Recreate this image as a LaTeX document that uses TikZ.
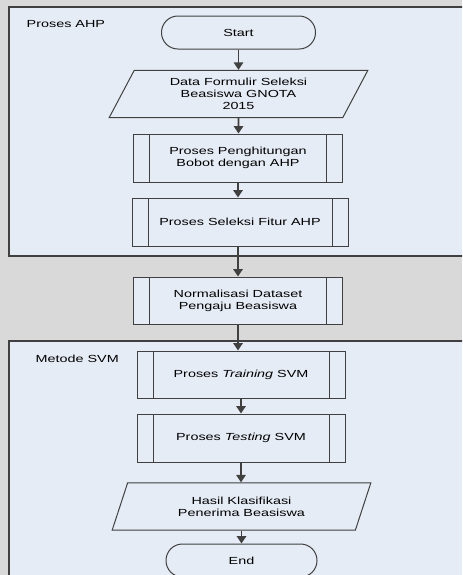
\documentclass[tikz,border=0pt]{standalone}
\usepackage{fontspec}
\setmainfont{Liberation Sans}[FakeStretch=1.4]
\usepackage{xcolor}
\usepackage{tikz}
\usetikzlibrary{shapes.geometric, positioning, arrows.meta}
\definecolor{bggray}{HTML}{D9D9D9}
\definecolor{lanefill}{HTML}{E6ECF6}
\definecolor{linegray}{HTML}{404040}

\begin{document}
\begin{tikzpicture}[x=0.75pt, y=-0.75pt,
    font=\fontsize{7.7}{9.2}\selectfont,
    lane/.style={draw=linegray, line width=0.9pt, fill=lanefill},
    term/.style={draw=linegray, fill=lanefill, line width=0.75pt, rounded corners=12.3pt, minimum width=115.5pt, minimum height=24.75pt, inner sep=0pt},
    io/.style={trapezium, trapezium left angle=52, trapezium right angle=128, trapezium stretches body, draw=linegray, fill=lanefill, line width=0.75pt, minimum width=194pt, minimum height=35.5pt, inner sep=0pt, align=center},
    proc/.style={draw=linegray, fill=lanefill, line width=0.75pt, minimum height=36pt, inner sep=0pt, align=center,
        path picture={
            \draw[linegray, line width=0.75pt] ([xshift=12pt]path picture bounding box.north west) -- ([xshift=12pt]path picture bounding box.south west);
            \draw[linegray, line width=0.75pt] ([xshift=-12pt]path picture bounding box.north east) -- ([xshift=-12pt]path picture bounding box.south east);
        }},
    arr/.style={draw=linegray, line width=1.2pt, -{Triangle[width=7pt, length=5.5pt]}}]
    \clip (0,0) rectangle (462,575);
    \fill[bggray] (0,0) rectangle (462,575);
    \draw[lane] (9,7) rectangle (475,256);
    \draw[lane] (9,341) rectangle (475,590);
    \node[anchor=west] (lblahp) at (22,23.7) {Proses AHP};
    \node[anchor=west] (lblsvm) at (31,358.5) {Metode SVM};

    \node[term] (start) at (238.5,32.5) {Start};
    \node[io] (data) at (238.5,94) {Data Formulir Seleksi\\Beasiswa GNOTA\\2015};
    \node[proc, minimum width=156.75pt] (hitung) at (238,158) {Proses Penghitungan\\Bobot dengan AHP};
    \node[proc, minimum width=162pt] (fitur) at (240,222) {Proses Seleksi Fitur AHP};
    \node[proc, minimum width=156.75pt, minimum height=35.25pt] (norm) at (238,300.5) {Normalisasi Dataset\\Pengaju Beasiswa};
    \node[proc, minimum width=156pt, minimum height=35.25pt] (train) at (241,374.5) {Proses \textit{Training} SVM};
    \node[proc, minimum width=156pt] (test) at (241,438) {Proses \textit{Testing} SVM};
    \node[io] (hasil) at (241.5,506.5) {Hasil Klasifikasi\\Penerima Beasiswa};
    \node[term, minimum width=113.25pt] (end) at (241.5,560.5) {End};

    \draw[arr] (start) -- (start |- data.north);
    \draw[arr] (data) -- (data |- hitung.north);
    \draw[arr] (hitung) -- (hitung |- fitur.north);
    \draw[arr] (fitur.south -| norm) -- (norm.north);
    \draw[arr] (norm) -- (norm |- train.north);
    \draw[arr] (train) -- (train |- test.north);
    \draw[arr] (test) -- (test |- hasil.north);
    \draw[arr] (hasil.south -| end) -- (end.north);
\end{tikzpicture}
\end{document}
